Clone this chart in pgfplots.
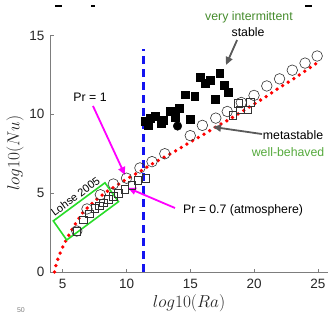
\documentclass[border=0pt]{standalone}
\usepackage{fontspec}
\setmainfont{Liberation Sans}
\usepackage{pgfplots}
\pgfplotsset{compat=1.18}
\usetikzlibrary{arrows.meta}
\definecolor{axgray}{RGB}{125,125,125}
\definecolor{labgray}{RGB}{38,38,38}
\definecolor{arrgray}{RGB}{90,90,90}
\definecolor{dkgreen}{RGB}{70,140,45}
\definecolor{ltgreen}{RGB}{85,170,60}
\definecolor{boxgreen}{RGB}{40,220,40}
\definecolor{mag}{RGB}{255,0,255}
\definecolor{dashblue}{RGB}{20,20,240}
\definecolor{dotred}{RGB}{255,0,0}
\begin{document}
\begin{tikzpicture}
\useasboundingbox (-50pt,-42pt) rectangle (278pt,272pt);
\begin{axis}[
  at={(0,0)}, anchor=south west, scale only axis,
  width=278pt, height=236.5pt,
  xmin=4, xmax=25.8, ymin=0, ymax=15,
  axis x line*=bottom, axis y line*=left,
  axis line style={axgray, line width=0.6pt},
  xtick={5,10,15,20,25}, ytick={0,5,10,15},
  tick style={axgray, line width=0.6pt}, major tick length=3.5pt, tick align=inside,
  tick label style={font=\fontsize{13.5}{15}\selectfont, text=labgray},
  /pgf/number format/assume math mode=true,
  xticklabel style={yshift=-4pt}, yticklabel style={xshift=-2pt},
  xlabel={$log10(Ra)$}, ylabel={$log10(Nu)$},
  xlabel style={at={(axis description cs:0.5,-0.131)}, anchor=center, font=\fontsize{16}{18}\selectfont, text=labgray},
  ylabel style={at={(axis description cs:-0.1259,0.503)}, anchor=center, font=\fontsize{16}{18}\selectfont, text=labgray},
  clip=false,
]
% blue dashed line
\addplot[draw=dashblue, color=dashblue, line width=2.4pt, dash pattern=on 8pt off 5pt, mark=none] coordinates {(11.33,0) (11.33,14.16)};
% open circles
\addplot[only marks, mark=o, mark size=5.3pt, draw=black!80, mark options={line width=0.6pt}] coordinates {
(6.1,2.6) (6.9,4.0) (7.95,4.9) (8.97,5.58) (10.0,5.95) (11.05,6.6) (12.0,7.0) (13.0,7.5)
(15.0,8.65) (15.95,9.3) (17.0,9.76) (17.9,10.18) (19.0,10.75) (20.0,11.2) (21.0,11.8)
(22.0,12.25) (23.0,12.8) (24.0,13.25) (24.95,13.7)};
% open squares
\addplot[only marks, mark=square, mark size=3.8pt, draw=black!80, mark options={line width=0.6pt}] coordinates {
(6.1,2.6) (6.6,3.3) (7.1,3.7) (7.5,4.05) (7.85,4.2) (8.2,4.4) (8.55,4.6) (8.95,4.8)
(9.35,5.0) (9.85,5.25) (10.4,5.5) (10.9,5.8) (11.5,5.95)
(18.35,9.95) (18.75,10.7) (18.9,10.3) (19.5,10.3) (19.7,10.75)};
% filled squares
\addplot[only marks, mark=square*, mark size=3.9pt, black] coordinates {
(11.45,9.55) (11.7,9.3) (11.85,9.75) (12.25,9.9) (12.7,9.4) (12.9,9.65) (13.45,10.2)
(13.8,9.8) (14.15,10.4) (14.6,11.25) (15.0,9.7) (15.35,11.15) (15.8,12.35) (16.15,11.95)
(16.55,12.15) (16.95,10.95) (17.3,12.6) (17.65,11.85) (18.0,11.4)};
% filled circle
\addplot[only marks, mark=*, mark size=4.3pt, black] coordinates {(14.0,9.26)};
% red dotted curve
\addplot[draw=dotred, line width=3.8pt, line cap=round, dash pattern=on 0pt off 6.6pt, mark=none] coordinates {
(4.35,0) (4.5,0.55) (4.7,1.0) (4.95,1.5) (5.25,2.0) (5.7,2.65) (6.1,3.2) (6.6,3.8)
(7.15,4.25) (7.8,4.7) (8.45,5.1) (9.25,5.5) (10.0,5.9) (11.0,6.35) (12.0,6.85) (13.0,7.3)
(14.0,7.75) (15.0,8.25) (16.0,8.7) (17.0,9.2) (18.0,9.65) (19.0,10.15) (20.0,10.65)
(21.0,11.15) (22.0,11.7) (23.0,12.2) (24.0,12.75) (25.0,13.3)};
% green box
\draw[boxgreen, line width=1.6pt] (axis cs:4.26,3.24) -- (axis cs:5.31,2.03) -- (axis cs:9.37,4.46) -- (axis cs:8.31,5.66) -- cycle;
\node[rotate=36.6, anchor=south, font=\fontsize{11}{12}\selectfont, inner sep=1.5pt] at (axis cs:6.25,4.5) {Lohse 2005};
% annotations
\node[font=\fontsize{12.3}{14}\selectfont, text=dkgreen] at (axis cs:19.6,16.17) {very intermittent};
\node[font=\fontsize{12.3}{14}\selectfont, text=black] at (axis cs:19.53,15.22) {stable};
\draw[arrgray, line width=1.8pt, -{Triangle[length=8pt,width=7pt]}] (axis cs:18.67,14.71) -- (axis cs:17.8,13.13);
\node[font=\fontsize{12.3}{14}\selectfont, text=black] at (axis cs:23.06,8.69) {metastable};
\node[font=\fontsize{12.3}{14}\selectfont, text=ltgreen] at (axis cs:22.67,7.61) {well-behaved};
\draw[arrgray, line width=1.8pt, -{Triangle[length=8pt,width=7pt]}] (axis cs:20.63,8.75) -- (axis cs:16.78,9.2);
\node[font=\fontsize{12.3}{14}\selectfont, text=black] at (axis cs:7.14,11.1) {Pr = 1};
\draw[mag, line width=1.8pt, -{Triangle[length=8pt,width=7pt]}] (axis cs:7.37,10.53) -- (axis cs:9.88,6.15);
\node[font=\fontsize{12.3}{14}\selectfont, text=black] at (axis cs:19.14,3.93) {Pr = 0.7 (atmosphere)};
\draw[mag, line width=1.8pt, -{Triangle[length=8pt,width=7pt]}] (axis cs:13.8,4.06) -- (axis cs:10.12,5.33);
\end{axis}
\node[font=\fontsize{7}{8}\selectfont, text=gray] at (-29pt,-38pt) {50};
\draw[black, line width=1.5pt] (5pt,266pt) -- (12pt,266pt);
\draw[black, line width=1.5pt] (41pt,266pt) -- (45pt,266pt);
\draw[black, line width=1.5pt] (255pt,266pt) -- (262pt,266pt);
\end{tikzpicture}
\end{document}
